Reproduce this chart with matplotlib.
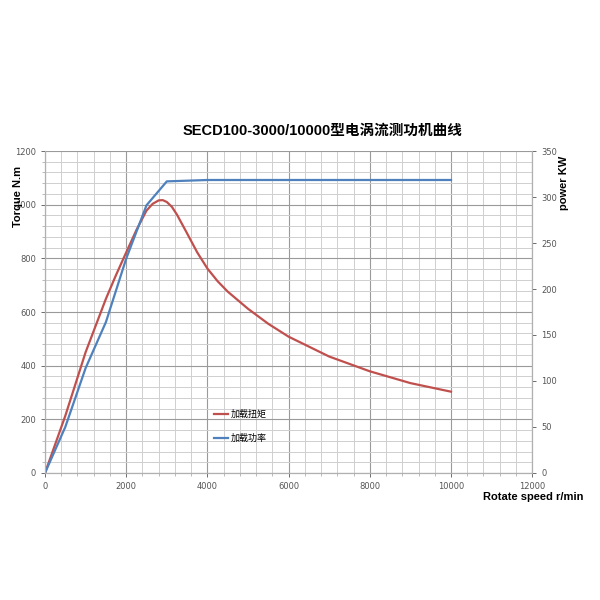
import matplotlib.pyplot as plt
import numpy as np
from matplotlib.ticker import MultipleLocator

cjk = ['Liberation Sans', 'Noto Sans CJK SC']

# data
speed_t = [0, 500, 1000, 1500, 1750, 2000, 2250, 2500, 2650, 2800, 2900, 3000, 3125, 3250, 3500, 3750,
           4000, 4250, 4500, 5000, 5500, 6000, 7000, 8000, 9000, 10000]
torque = [0, 213, 450, 649, 738, 822, 905, 978, 1003, 1016, 1017, 1010, 992, 963, 893, 822,
          762, 715, 676, 612, 556, 508, 434, 379, 335, 303]

speed_p = [0, 500, 1000, 1500, 2000, 2500, 3000, 4000, 5000, 6000, 7000, 8000, 9000, 10000]
power = [0, 50, 114, 164, 233, 291, 317, 318.5, 318.5, 318.5, 318.5, 318.5, 318.5, 318.5]

title = 'SECD100-3000/10000型电涡流测功机曲线'
labels = ['加载扭矩', '加载功率']

fig = plt.figure(figsize=(6, 6), dpi=100)
ax = fig.add_axes([0.075, 0.2117, 0.812, 0.5366])
ax2 = ax.twinx()

l1, = ax.plot(speed_t, torque, color='#C0504D', lw=1.6)
l2, = ax2.plot(speed_p, power, color='#4F81BD', lw=1.6)

ax.set_xlim(0, 12000)
ax.set_ylim(0, 1200)
ax2.set_ylim(0, 350)
ax.xaxis.set_major_locator(MultipleLocator(2000))
ax.xaxis.set_minor_locator(MultipleLocator(400))
ax.yaxis.set_major_locator(MultipleLocator(200))
ax.yaxis.set_minor_locator(MultipleLocator(40))
ax2.yaxis.set_major_locator(MultipleLocator(50))

ax.grid(which='major', color='#9a9a9a', lw=0.8)
ax.grid(which='minor', color='#cfcfcf', lw=0.7)
ax.set_axisbelow(True)

for a in (ax, ax2):
    for s in a.spines.values():
        s.set_color('#b0b0b0')
    a.tick_params(labelsize=6, colors='#555555', length=3, width=0.6)
    a.tick_params(which='minor', length=2, colors='#b0b0b0')
ax2.spines['top'].set_visible(False)
ax.spines['top'].set_visible(False)

fig.text(0.537, 0.782, title, ha='center', va='center', fontsize=10.5,
         fontweight='bold', family=cjk)
fig.text(0.03, 0.672, 'Torque N.m', rotation=90, ha='center', va='center',
         fontsize=8, fontweight='bold', family=cjk)
fig.text(0.94, 0.695, 'power KW', rotation=90, ha='center', va='center',
         fontsize=8, fontweight='bold', family=cjk)
fig.text(0.888, 0.172, 'Rotate speed r/min', ha='center', va='center',
         fontsize=8, fontweight='bold', family=cjk)

ax.legend([l1, l2], labels, loc='center left', bbox_to_anchor=(0.33, 0.145),
          frameon=False, handlelength=1.6, handletextpad=0.3, labelspacing=1.6,
          prop={'family': ['Noto Sans CJK SC'], 'size': 6.5})

fig.savefig('out.png', dpi=100)
